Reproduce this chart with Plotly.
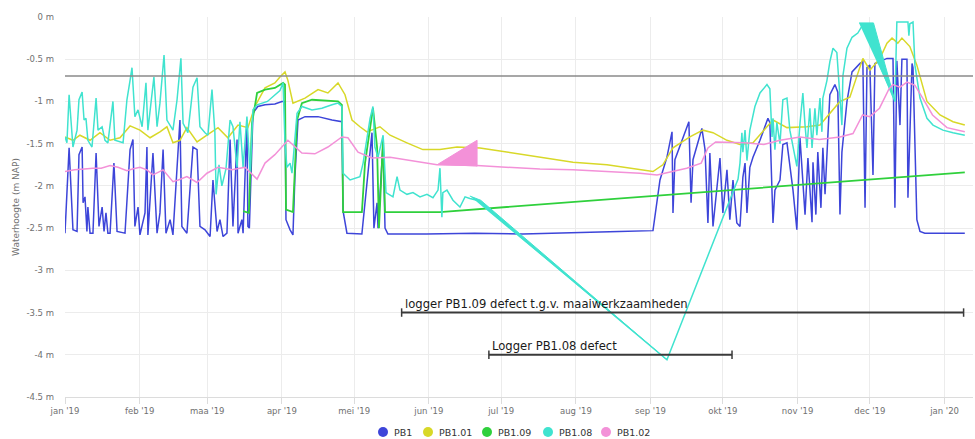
import pandas as pd
import plotly.graph_objects as go

START = pd.Timestamp("2019-01-01")

def to_dates(days):
    return [START + pd.Timedelta(days=d) for d in days]

series_names = ["PB1", "PB1.01", "PB1.09", "PB1.08", "PB1.02"]
series_colors = ["#3d45d9", "#d8d828", "#2fd03c", "#40e3cf", "#f391d8"]

# days since 2019-01-01, water level (m NAP)
pb1_days = [0, 1.7, 3.3, 5, 5.8, 7.1, 7.5, 8.3, 9.1, 9.5, 10.4, 11.6, 12.9, 14.1, 15.4, 16.2, 17, 17.8,
            18.7, 19.9, 20.3, 21.6, 24.9, 27, 28.2, 29, 30.3, 31.1, 33.2, 34, 34.4, 36.5, 38.2, 39.4, 40.7,
            41.9, 43.6, 44.8, 47.7, 48.5, 50.6, 53.1, 54.8, 56, 58.1, 60.2, 61.4, 63.1, 64.3, 65.6, 67.2,
            68.5, 69.7, 71.4, 71.8, 73.4, 73.9, 75.5, 75.9, 76.5, 78, 80, 83, 87.1, 90, 91.3, 91.7, 93.4,
            94.6, 95.4, 96.7, 99.6, 105, 110.8, 114.9, 115.4, 117, 123.2, 125.3, 127.4, 128.2, 129.5, 129.9,
            132, 132.8, 134, 150, 170, 190, 210.8, 230, 244, 246.9, 249.8, 251.9, 252.3, 253.1, 258.9,
            259.8, 260.6, 264.3, 265.6, 266.8, 267.6, 268.9, 271.8, 273, 274.7, 275.9, 277.2, 278.8, 280.1,
            281.3, 282.2, 283, 284.2, 285.5, 288.4, 291.7, 292.5, 293.8, 294.6, 296.7, 297.9, 299.6, 302.1,
            303.7, 305, 307.1, 308.3, 310, 310.4, 311.6, 312.4, 313.7, 314.5, 315.4, 317.4, 319.5, 320.7,
            321.6, 322.4, 324.5, 326.6, 329.9, 331.1, 332, 332.8, 334, 335.3, 336.1, 341.1, 343.6, 344.4,
            345.2, 346.5, 347.3, 349.4, 349.8, 351.5, 351.9, 353.5, 354.8, 356.8, 365, 373.4]
pb1_vals = [-2.56, -1.55, -2.52, -2.54, -1.63, -1.54, -2.2, -2.13, -2.54, -2.25, -2.56, -2.56, -1.61, -2.48,
            -2.25, -2.54, -2.32, -2.56, -2.56, -1.93, -1.73, -2.54, -2.56, -1.57, -1.45, -2.48, -2.25, -2.58,
            -2.32, -1.54, -2.58, -1.61, -2.56, -2.32, -1.57, -2.56, -2.4, -2.58, -1.22, -2.48, -2.56, -1.54,
            -1.57, -2.48, -2.52, -2.6, -1.93, -2.54, -2.4, -2.6, -2.56, -1.45, -2.48, -1.45, -2.56, -2.4,
            -2.56, -1.22, -2.48, -2.5, -1.14, -1.06, -1.04, -1.03, -1.0, -1.0, -2.4, -2.52, -2.58, -1.9,
            -1.22, -1.18, -1.18, -1.22, -1.24, -2.3, -2.56, -2.57, -1.93, -1.37, -2.5, -2.2, -2.5, -1.49,
            -2.5, -2.57, -2.57, -2.56, -2.57, -2.55, -2.54, -2.53, -1.93, -1.66, -1.36, -2.32, -1.69, -1.24,
            -2.2, -1.69, -1.32, -1.57, -2.44, -1.61, -2.48, -1.67, -2.32, -1.81, -2.4, -1.93, -2.44, -2.48,
            -1.9, -1.73, -2.32, -1.78, -1.66, -1.46, -1.2, -1.25, -2.44, -2.05, -1.93, -1.51, -1.49, -2.05,
            -2.52, -1.43, -2.34, -1.67, -2.43, -1.72, -2.34, -1.6, -2.26, -1.55, -2.1, -0.92, -0.8, -0.89,
            -2.34, -1.6, -1.0, -0.65, -0.55, -0.53, -2.26, -0.6, -0.57, -1.87, -0.55, -0.49, -0.49, -2.26,
            -0.52, -1.28, -0.5, -0.5, -2.14, -0.55, -0.6, -2.4, -2.54, -2.56, -2.56, -2.56]

pb101_days = [0, 3.3, 6.2, 10.4, 14.5, 18.7, 22.8, 27, 31.1, 35.3, 39.4, 42.3, 44.8, 47.7, 50.6, 54.8, 58.9,
              63.5, 67.6, 71.8, 75.9, 78.8, 83, 87.1, 89.2, 91.3, 92.5, 94.6, 99.6, 105, 109.1, 113.3, 116.2,
              119.1, 122.4, 125.3, 130.7, 134.9, 141.9, 148.5, 155.6, 162.7, 172.2, 183.4, 197.1, 210.8,
              224.9, 238.6, 244, 248.1, 252.3, 259.3, 264.7, 268.9, 274.7, 280.1, 285.5, 291.3, 293.8, 299.6,
              307.9, 313.3, 321.6, 325.7, 329.9, 331.1, 334, 338.2, 341.1, 343.2, 345.6, 347.3, 350.6, 353.5,
              357.7, 363.1, 368.5, 373.4]
pb101_vals = [-1.42, -1.46, -1.4, -1.46, -1.37, -1.46, -1.43, -1.29, -1.34, -1.43, -1.36, -1.3, -1.49, -1.46,
              -1.31, -1.48, -1.4, -1.31, -1.43, -1.28, -1.31, -1.06, -0.84, -0.78, -0.71, -0.65, -0.75, -1.02,
              -0.96, -0.86, -0.9, -0.78, -0.92, -1.22, -1.3, -1.36, -1.3, -1.4, -1.49, -1.57, -1.57, -1.54,
              -1.55, -1.6, -1.66, -1.72, -1.75, -1.81, -1.83, -1.75, -1.55, -1.42, -1.34, -1.37, -1.46, -1.51,
              -1.49, -1.3, -1.22, -1.31, -1.3, -1.28, -1.0, -0.95, -0.57, -0.49, -0.63, -0.49, -0.31, -0.25,
              -0.31, -0.25, -0.35, -0.57, -1.0, -1.16, -1.24, -1.28]

pb109_days = [73.9, 76.3, 77.6, 79.7, 83, 87.1, 90.5, 91.3, 91.7, 94.6, 96.3, 98.3, 102.5, 107.9, 113.3, 114.9,
              115.4, 123.2, 124.5, 127.8, 129.5, 130.3, 132, 132.8, 155.6, 373.4]
pb109_vals = [-2.3, -2.32, -1.26, -0.9, -0.86, -0.84, -0.78, -0.8, -2.28, -2.31, -1.22, -1.02, -0.98, -0.99,
              -1.0, -1.04, -2.31, -2.31, -1.73, -1.08, -1.54, -2.5, -1.43, -2.31, -2.31, -1.84]

pb108_days = [0, 0.8, 1.7, 2.9, 3.3, 5, 5.8, 7.1, 7.9, 8.7, 9.5, 11.2, 12.9, 13.7, 15.4, 16.6, 17.8, 19.9, 20.7,
              24.1, 25.7, 27, 27.8, 29, 30.3, 32, 33.6, 34.4, 36.9, 38.2, 39.4, 41.1, 42.3, 44.8, 46.5, 48.1,
              49, 51, 53.1, 54.8, 56, 58.1, 59.3, 61, 62.2, 62.7, 63.9, 65.1, 66.8, 68.5, 69.7, 71.4, 72.6,
              73.9, 75.5, 76.8, 78, 79.7, 84, 89.2, 90.5, 91.3, 92.1, 93.4, 94.2, 96.3, 98.3, 102.5, 106.6,
              110.8, 113.3, 114.9, 115.4, 118.3, 122.4, 123.7, 126.6, 127.8, 128.6, 129.9, 132, 133.2, 136.1,
              137.8, 139, 141.9, 144.4, 147.3, 150.2, 152.7, 154.8, 155.6, 156.4, 156.8, 158.5, 161, 163.9,
              166, 168, 171, 249.8, 279.3, 280.1, 280.9, 281.3, 282.2, 283, 284.2, 286.3, 288.4, 291.3, 292.5,
              293.4, 293.8, 294.6, 295.4, 296.7, 297.9, 299.6, 300.8, 302.1, 303.7, 305, 306.2, 307.1, 307.9,
              309.1, 310, 311.2, 312, 313.3, 314.1, 314.5, 316.2, 317.4, 318.7, 320.3, 321.6, 322.4, 322.8,
              324.5, 326.6, 329, 331.1, 344.4, 345.2, 349.8, 350.2, 350.6, 351.9, 352.7, 354.8, 357.7, 360.2,
              364.3, 368.5, 373.4]
pb108_vals = [-1.42, -1.49, -0.92, -1.37, -1.54, -1.34, -0.98, -0.89, -1.22, -1.2, -1.46, -1.54, -0.96, -1.34,
              -1.3, -1.46, -1.49, -1.0, -1.46, -1.49, -0.98, -0.75, -0.6, -1.18, -1.1, -1.3, -0.78, -1.34,
              -0.71, -1.3, -1.02, -0.45, -1.22, -1.34, -0.98, -0.49, -1.26, -1.37, -0.83, -0.72, -1.3, -1.37,
              -1.4, -0.86, -1.37, -2.1, -1.75, -2.0, -1.8, -1.22, -1.3, -1.78, -1.24, -1.78, -1.18, -1.85,
              -1.1, -1.04, -1.0, -0.87, -0.78, -1.5, -1.78, -1.73, -1.85, -1.14, -1.06, -1.1, -1.08, -1.04,
              -1.02, -1.06, -1.85, -1.93, -1.89, -1.73, -1.2, -1.06, -1.54, -1.66, -1.4, -2.08, -2.13, -1.89,
              -2.05, -2.1, -2.08, -2.13, -2.1, -2.14, -2.05, -1.79, -2.37, -2.08, -2.05, -2.17, -2.25, -2.13,
              -2.15, -2.17, -4.06, -1.92, -1.73, -1.37, -1.6, -1.34, -1.7, -1.34, -1.06, -0.9, -0.8, -0.85,
              -1.42, -1.2, -1.57, -1.25, -1.5, -0.98, -0.96, -1.34, -1.54, -1.77, -1.26, -0.9, -1.28, -1.55,
              -1.08, -1.55, -1.08, -1.4, -0.96, -1.36, -0.96, -0.75, -0.53, -0.37, -0.42, -0.96, -1.28, -0.7,
              -0.37, -0.24, -0.19, -0.09, -1.0, -0.06, -0.06, -0.22, -0.08, -0.06, -0.57, -0.96, -1.2, -1.28,
              -1.34, -1.37, -1.4]

pb102_days = [0, 4, 8, 11.6, 15, 18.7, 22, 25.7, 28, 31.1, 34, 36.5, 40.7, 44.8, 47, 50.6, 54.8, 58.9, 63.5,
              69.3, 74.7, 79.7, 83, 87.1, 92.5, 98.3, 103.7, 109.1, 114.9, 117.4, 121.6, 127.4, 134.9, 141.9,
              154.4, 171, 183.4, 197.1, 210.8, 224.9, 238.6, 245.7, 252, 258, 264, 266.8, 270, 282, 290,
              296.7, 305, 313, 321.6, 327, 331, 334, 338, 342, 343.5, 346.5, 349.4, 352.7, 355.5, 360, 366,
              370, 373.4]
pb102_vals = [-1.83, -1.81, -1.8, -1.79, -1.79, -1.76, -1.78, -1.82, -1.8, -1.78, -1.81, -1.87, -1.81, -1.95,
              -1.93, -1.89, -1.96, -1.85, -1.78, -1.81, -1.78, -1.92, -1.73, -1.63, -1.46, -1.61, -1.62, -1.54,
              -1.42, -1.43, -1.6, -1.67, -1.66, -1.69, -1.75, -1.76, -1.78, -1.8, -1.81, -1.83, -1.85, -1.87,
              -1.83, -1.79, -1.73, -1.55, -1.48, -1.49, -1.51, -1.46, -1.42, -1.45, -1.42, -1.38, -1.16, -1.18,
              -1.08, -0.85, -0.8, -0.83, -0.77, -0.81, -0.94, -1.16, -1.31, -1.34, -1.36]

# filled artefact areas visible in the chart
pb102_fill_days = [154.4, 171, 171]
pb102_fill_vals = [-1.75, -1.46, -1.77]
pb108_drop_days = [168, 172.5, 249.8]
pb108_drop_vals = [-2.12, -2.17, -4.06]
pb108_dec_days = [329.5, 335.5, 344.5]
pb108_dec_vals = [-0.07, -0.07, -1.0]

reference_level = -0.7

defect_starts = [139.7, 175.9]
defect_ends = [372.9, 276.8]
defect_levels = [-3.5, -4.0]
defect_labels = ["logger PB1.09 defect t.g.v. maaiwerkzaamheden", "Logger PB1.08 defect"]

x_tick_dates = ["2019-01-01", "2019-02-01", "2019-03-01", "2019-04-01", "2019-05-01", "2019-06-01",
                "2019-07-01", "2019-08-01", "2019-09-01", "2019-10-01", "2019-11-01", "2019-12-01", "2020-01-01"]
x_tick_labels = ["jan '19", "feb '19", "maa '19", "apr '19", "mei '19", "jun '19", "jul '19", "aug '19",
                 "sep '19", "okt '19", "nov '19", "dec '19", "jan '20"]
y_tick_vals = [0, -0.5, -1, -1.5, -2, -2.5, -3, -3.5, -4, -4.5]
y_tick_labels = ["0 m", "-0.5 m", "-1 m", "-1.5 m", "-2 m", "-2.5 m", "-3 m", "-3.5 m", "-4 m", "-4.5 m"]

# layout geometry (pixels)
W, H = 975, 439
ML, MR, MT, MB = 65, 2, 17, 42
legend_marker_px = [383, 428, 487, 548, 606]
legend_y_px = 432

fig = go.Figure()

all_days = [pb1_days, pb101_days, pb109_days, pb108_days, pb102_days]
all_vals = [pb1_vals, pb101_vals, pb109_vals, pb108_vals, pb102_vals]
widths = [1.5, 1.5, 1.8, 1.5, 1.5]

for name, col, d, v, w in zip(series_names, series_colors, all_days, all_vals, widths):
    fig.add_trace(go.Scatter(x=to_dates(d), y=v, mode="lines", name=name, showlegend=False,
                             line=dict(color=col, width=w), hoverinfo="skip"))
    if name == "PB1.08":
        for fd, fv in [(pb108_drop_days, pb108_drop_vals), (pb108_dec_days, pb108_dec_vals)]:
            fig.add_trace(go.Scatter(x=to_dates(fd), y=fv, mode="lines", fill="toself", fillcolor=col,
                                     line=dict(color=col, width=1), showlegend=False, hoverinfo="skip"))
    if name == "PB1.02":
        fig.add_trace(go.Scatter(x=to_dates(pb102_fill_days), y=pb102_fill_vals, mode="lines", fill="toself",
                                 fillcolor=col, line=dict(color=col, width=1), showlegend=False,
                                 hoverinfo="skip"))

shapes = [dict(type="line", xref="paper", x0=0, x1=1, yref="y", y0=reference_level, y1=reference_level,
               line=dict(color="#8a8a8a", width=1.5))]
annotations = []
for s, e, lvl, lab in zip(defect_starts, defect_ends, defect_levels, defect_labels):
    xs, xe = START + pd.Timedelta(days=s), START + pd.Timedelta(days=e)
    shapes.append(dict(type="line", x0=xs, x1=xe, y0=lvl, y1=lvl, line=dict(color="#3a3a3a", width=2)))
    for xx in (xs, xe):
        shapes.append(dict(type="line", x0=xx, x1=xx, y0=lvl - 0.05, y1=lvl + 0.05,
                           line=dict(color="#3a3a3a", width=1.5)))
    annotations.append(dict(x=xs, y=lvl, text=lab, showarrow=False, xanchor="left", yanchor="bottom",
                            xshift=1, yshift=0, font=dict(family="DejaVu Sans", size=11.6, color="#1a1a1a")))

# legend (circle markers + labels) below the plot
pw, ph = W - ML - MR, H - MT - MB
ly = (H - MB - legend_y_px) / ph
for name, col, mx in zip(series_names, series_colors, legend_marker_px):
    px_ = (mx - ML) / pw
    shapes.append(dict(type="circle", xref="paper", yref="paper", xsizemode="pixel", ysizemode="pixel",
                       xanchor=px_, yanchor=ly, x0=-5, x1=5, y0=-5, y1=5,
                       fillcolor=col, line=dict(color=col, width=0)))
    annotations.append(dict(x=px_, y=ly, xref="paper", yref="paper", text=name, showarrow=False,
                            xanchor="left", yanchor="middle", xshift=9,
                            font=dict(family="DejaVu Sans", size=9.5, color="#333333")))

fig.update_layout(
    width=W, height=H,
    margin=dict(l=ML, r=MR, t=MT, b=MB),
    paper_bgcolor="white", plot_bgcolor="white",
    shapes=shapes, annotations=annotations,
    showlegend=False,
    xaxis=dict(type="date", range=[START, START + pd.Timedelta(days=376.8)], automargin=False,
               tickvals=x_tick_dates, ticktext=x_tick_labels,
               showgrid=True, gridcolor="#ececec", gridwidth=1,
               ticks="outside", ticklen=6, tickcolor="#dcdcdc",
               showline=True, linecolor="#dcdcdc", zeroline=False,
               tickfont=dict(family="DejaVu Sans", size=8.5, color="#707070")),
    yaxis=dict(range=[-4.5, 0], tickvals=y_tick_vals, ticktext=y_tick_labels, automargin=False,
               showgrid=True, gridcolor="#ececec", gridwidth=1, zeroline=False,
               ticklabelstandoff=10,
               title=dict(text="Waterhoogte (m NAP)", standoff=5,
                          font=dict(family="DejaVu Sans", size=9, color="#707070")),
               tickfont=dict(family="DejaVu Sans", size=8.5, color="#707070")),
)

fig.write_html("out.html", config={"displayModeBar": False},
               post_script="document.body.style.margin='0';document.body.style.padding='0';")
